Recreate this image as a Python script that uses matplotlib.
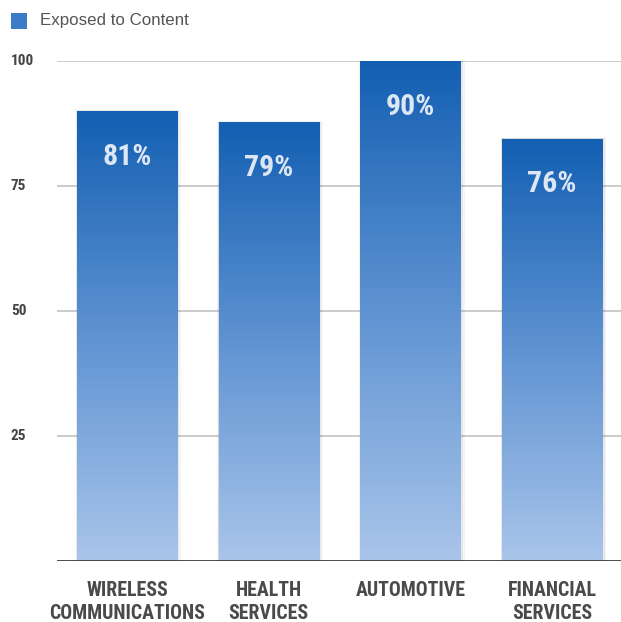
import numpy as np
import matplotlib
matplotlib.use('Agg')
import matplotlib.pyplot as plt
from matplotlib.colors import LinearSegmentedColormap
from matplotlib.patches import Rectangle

categories = ['WIRELESS\nCOMMUNICATIONS', 'HEALTH\nSERVICES', 'AUTOMOTIVE', 'FINANCIAL\nSERVICES']
exposed = [81, 79, 90, 76]
yticks = [25, 50, 75, 100]
series_name = 'Exposed to Content'

# bars are scaled so the biggest one fills the 0-100 axis
heights = [v / max(exposed) * 100 for v in exposed]

cond = ['Roboto Condensed', 'DejaVu Sans']
grad = LinearSegmentedColormap.from_list('bluegrad', ['#a9c5ea', '#5f93d2', '#135fb2'])

fig = plt.figure(figsize=(6.21, 6.22), dpi=100)
ax = fig.add_axes([0.0918, 0.0973, 0.9082, 0.805])

x = np.arange(len(categories))
w = 0.706

for t in yticks:
    ax.axhline(t, color='#c8c8c8', lw=1.3, zorder=1)

gradimg = np.linspace(0, 1, 256).reshape(-1, 1)
for xi, h, v in zip(x, heights, exposed):
    # soft shadow behind the bar
    for k, a in [(0.025, 0.04), (0.014, 0.05), (0.006, 0.07)]:
        sh = Rectangle((xi - w / 2 - k * 0.4, 0), w + k * 1.6, h + k * 6,
                       facecolor='#000000', alpha=a, edgecolor='none', zorder=2)
        ax.add_patch(sh)
    bar = ax.bar(xi, h, width=w, color='none', edgecolor='none', zorder=3)[0]
    im = ax.imshow(gradimg, cmap=grad, aspect='auto', origin='lower',
                   extent=(xi - w / 2, xi + w / 2, 0, h), zorder=3)
    im.set_clip_path(bar)
    ax.annotate(f'{v}%', (xi, h), xytext=(0, -33), textcoords='offset points',
                ha='center', va='center', fontsize=21.5, fontweight='bold',
                color='#dce6f4', family=cond, zorder=5)

ax.set_xlim(-0.494, 3.486)
ax.set_ylim(0, 100)

ax.axhline(0, color='#3a3a3a', lw=2, zorder=6)

for s in ax.spines.values():
    s.set_visible(False)
ax.set_xticks([])
ax.set_yticks([])

for t in yticks:
    ax.text(-0.082, t, str(t), transform=ax.get_yaxis_transform(), ha='left', va='center',
            fontsize=11, fontweight='bold', color='#444444', family=cond)

for xi, c in zip(x, categories):
    ax.annotate(c, (xi, 0), xytext=(0, -14), textcoords='offset points',
                ha='center', va='top', fontsize=14.3, fontweight='bold', color='#4a4a4a',
                family=cond, linespacing=1.3, annotation_clip=False)

# legend swatch and label
fig.patches.append(Rectangle((11 / 621, 1 - 29 / 622), 16 / 621, 16 / 622,
                             transform=fig.transFigure, facecolor='#3d7ac8', edgecolor='none'))
fig.text(40 / 621, 1 - 21 / 622, series_name, ha='left', va='center',
         fontsize=12.2, color='#555555', family='Liberation Sans')

fig.savefig('out.png', dpi=100)
